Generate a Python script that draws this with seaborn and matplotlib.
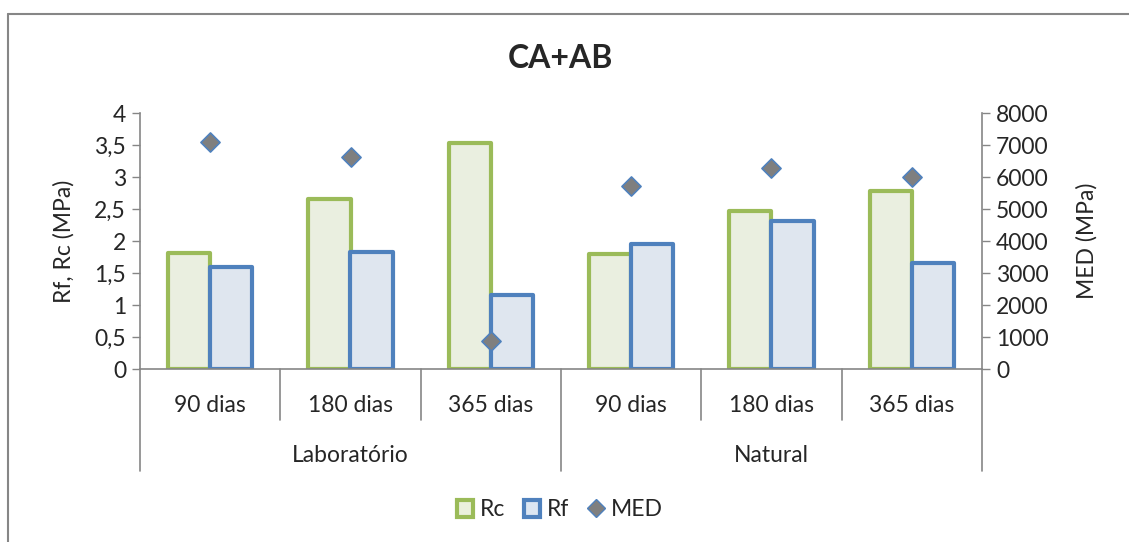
import matplotlib
matplotlib.use("Agg")
import matplotlib.pyplot as plt
from matplotlib.patches import Patch
from matplotlib.lines import Line2D
from matplotlib.ticker import FuncFormatter, MultipleLocator
import seaborn as sns
import pandas as pd

# Données
grupos = ["Laboratório", "Natural"]
idades = ["90 dias", "180 dias", "365 dias"]
rc = [1.81, 2.66, 3.53, 1.80, 2.47, 2.78]
rf = [1.60, 1.83, 1.16, 1.95, 2.31, 1.66]
med = [7090, 6620, 870, 5710, 6280, 6000]

categorias = [g + " " + i for g in grupos for i in idades]

df = pd.DataFrame({
    "cat": categorias * 2,
    "serie": ["Rc"] * 6 + ["Rf"] * 6,
    "valor": rc + rf,
})
df_med = pd.DataFrame({"cat": categorias, "MED": med})

sns.set_style("white")
plt.rcParams["font.family"] = ["Lato", "DejaVu Sans"]

cor_borda = {"Rc": "#9bbb59", "Rf": "#4f81bd"}
cor_fundo = {"Rc": "#ebf1de", "Rf": "#dce6f2"}
cinza = "#868686"
fs = 16.5

fig = plt.figure(figsize=(11.29, 5.42), dpi=100)
ax = fig.add_axes([140 / 1129, 1 - 369 / 542, 842 / 1129, 256 / 542])

sns.barplot(data=df, x="cat", y="valor", hue="serie", order=categorias,
            hue_order=["Rc", "Rf"], palette=cor_fundo, width=0.6,
            legend=False, ax=ax)
for cont, s in zip(ax.containers, ["Rc", "Rf"]):
    for barra in cont:
        barra.set_edgecolor(cor_borda[s])
        barra.set_linewidth(3)
        barra.set_joinstyle("round")

ax.set_xlim(-0.5, 5.5)
ax.set_ylim(0, 4)
ax.yaxis.set_major_locator(MultipleLocator(0.5))
ax.yaxis.set_major_formatter(FuncFormatter(lambda v, p: f"{v:g}".replace(".", ",")))
ax.set_ylabel("Rf, Rc (MPa)", fontsize=fs, labelpad=14)
ax.set_xlabel("")
ax.set_xticks(range(6))
ax.set_xticklabels(idades * 2, fontsize=fs)
ax.tick_params(axis="x", length=0, pad=19)
ax.tick_params(axis="y", labelsize=fs, length=6, width=1, color=cinza, left=True, pad=4)

for lado in ["top", "right"]:
    ax.spines[lado].set_visible(False)
for lado in ["left", "bottom"]:
    ax.spines[lado].set_color(cinza)
    ax.spines[lado].set_linewidth(1.2)

# Eixo secundário pour MED
ax2 = ax.twinx()
sns.scatterplot(data=df_med, x="cat", y="MED", marker="D", s=95,
                color="#7f7f7f", edgecolor="#4f81bd", linewidth=1.2,
                ax=ax2, zorder=5)
ax2.set_ylim(0, 8000)
ax2.yaxis.set_major_locator(MultipleLocator(1000))
ax2.set_ylabel("MED (MPa)", fontsize=fs, labelpad=20)
ax2.tick_params(axis="y", labelsize=fs, length=6, width=1, color=cinza, right=True, pad=4)
for lado in ["top", "left", "bottom"]:
    ax2.spines[lado].set_visible(False)
ax2.spines["right"].set_color(cinza)
ax2.spines["right"].set_linewidth(1.2)

# Eixo de categorias em dois níveis
tr = ax.get_xaxis_transform()
for x in [0.5, 1.5, 3.5, 4.5]:
    ax.plot([x, x], [0, -51 / 256], transform=tr, color=cinza, lw=1.2, clip_on=False)
for x in [-0.5, 2.5, 5.5]:
    ax.plot([x, x], [0, -102 / 256], transform=tr, color=cinza, lw=1.2, clip_on=False)
for k, g in enumerate(grupos):
    ax.text(1 + 3 * k, -86 / 256, g, transform=tr, ha="center", va="center", fontsize=fs)

fig.text(560 / 1129, 1 - 58 / 542, "CA+AB", ha="center", va="center",
         fontsize=23, fontweight="bold")

alcas = [
    Patch(facecolor=cor_fundo["Rc"], edgecolor=cor_borda["Rc"], linewidth=3, label="Rc"),
    Patch(facecolor=cor_fundo["Rf"], edgecolor=cor_borda["Rf"], linewidth=3, label="Rf"),
    Line2D([], [], marker="D", linestyle="", markersize=9, markerfacecolor="#7f7f7f",
           markeredgecolor="#4f81bd", label="MED"),
]
fig.legend(handles=alcas, loc="center", bbox_to_anchor=(560 / 1129, 1 - 510 / 542),
           ncol=3, frameon=False, fontsize=fs, handlelength=0.7, handleheight=0.7,
           handletextpad=0.3, columnspacing=0.8)

# Moldura exterior
fig.add_artist(Line2D([7.5 / 1129, 1], [1 - 13.5 / 542] * 2, color=cinza, lw=1.5))
fig.add_artist(Line2D([7.5 / 1129] * 2, [0, 1 - 13.5 / 542], color=cinza, lw=1.5))

fig.savefig("out.png", dpi=100)
